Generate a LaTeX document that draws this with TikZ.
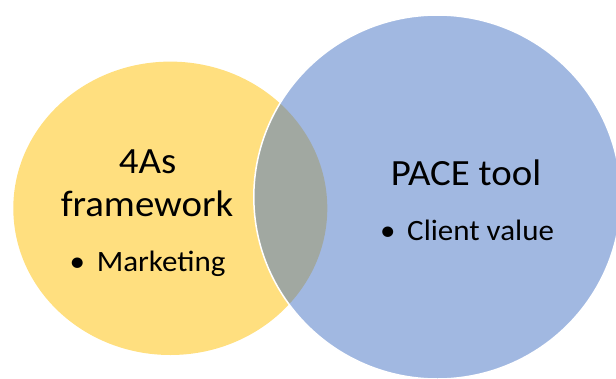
\documentclass[tikz,border=0pt]{standalone}
\usepackage{fontspec}
\setmainfont{Carlito}[FakeStretch=1.05]
\usepackage{tikz}
\definecolor{VennGold}{RGB}{255,192,0}
\definecolor{VennBlue}{RGB}{68,114,196}
\usetikzlibrary{shapes.geometric,positioning}
\newcommand{\bul}[0]{\textbullet\hspace{0.4em}}
\newcommand{\headfont}[0]{\fontsize{37}{44}\selectfont}
\newcommand{\itemfont}[0]{\fontsize{29.5}{35}\selectfont}

\begin{document}
\begin{tikzpicture}[x=1pt, y=-1pt, every node/.style={inner sep=0pt}]
    \useasboundingbox (0,0) rectangle (616,378);

    % Draw the two sets
    \node[ellipse, fill=VennGold, fill opacity=0.5, minimum width=314pt, minimum height=293.4pt] (fw) at (170.3,208.3) {};
    \node[ellipse, fill=VennBlue, fill opacity=0.5, draw=white, line width=1.5pt, minimum width=367pt, minimum height=364pt] (pace) at (437.3,197) {};

    % Labels of the left set
    \node[anchor=base, font=\headfont] (fwa) at (147.5,173.3) {4As};
    \node[anchor=base, font=\headfont] (fwb) at (147,216) {framework};
    \node[anchor=base, font=\itemfont] (fwc) at (147.5,271.7) {\bul Marketing};

    % Labels of the right set
    \node[anchor=base, font=\headfont] (pacea) at (466,185) {PACE tool};
    \node[anchor=base, font=\itemfont] (paceb) at (467,240) {\bul Client value};
\end{tikzpicture}
\end{document}
